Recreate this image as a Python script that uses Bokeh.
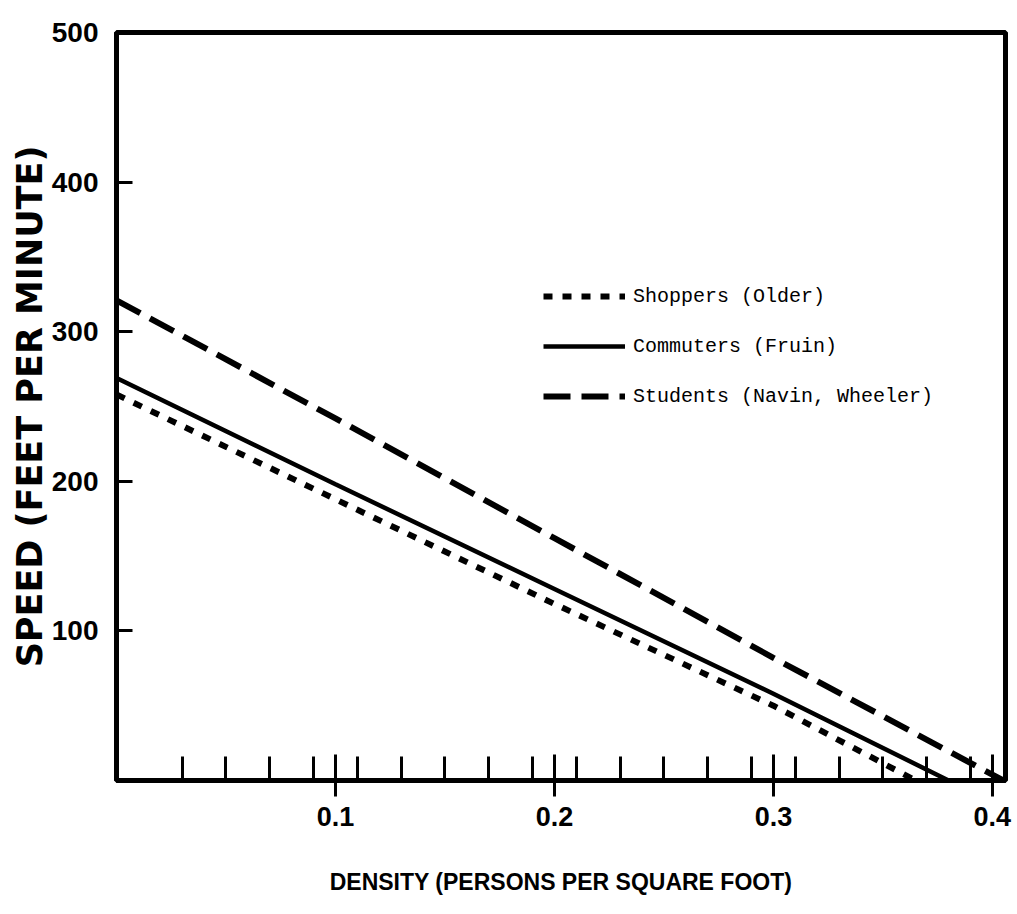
from bokeh.plotting import figure
from bokeh.models import FixedTicker, Legend, LegendItem, Range1d
from bokeh.embed import file_html
from bokeh.resources import INLINE

# Data
shoppers_x = [0.0, 0.1, 0.2, 0.3, 0.365]
shoppers_y = [258, 188, 118, 50, 0]
commuters_x = [0.0, 0.1, 0.2, 0.3, 0.38]
commuters_y = [269, 198, 128, 58, 0]
students_x = [0.0, 0.1, 0.2, 0.3, 0.405]
students_y = [321, 242, 162, 82, 0]

x_major = [0.1, 0.2, 0.3, 0.4]
x_minor = [0.03, 0.05, 0.07, 0.09, 0.11, 0.13, 0.15, 0.17, 0.19, 0.21,
           0.23, 0.25, 0.27, 0.29, 0.31, 0.33, 0.35, 0.37, 0.39]
y_major = [100, 200, 300, 400, 500]

labels = ["Shoppers (Older)", "Commuters (Fruin)", "Students (Navin, Wheeler)"]

p = figure(width=1017, height=914, output_backend="svg", toolbar_location=None,
           x_range=Range1d(0, 0.406), y_range=Range1d(0, 500),
           min_border_left=116, min_border_right=12, min_border_top=32,
           min_border_bottom=134)
p.grid.visible = False
p.background_fill_color = "white"
p.border_fill_color = "white"
p.outline_line_color = "black"
p.outline_line_width = 5

# X axis
xa = p.xaxis[0]
xa.ticker = FixedTicker(ticks=x_major, minor_ticks=x_minor)
xa.major_tick_in = 26
xa.major_tick_out = 16
xa.minor_tick_in = 24
xa.minor_tick_out = 0
xa.major_tick_line_width = 3
xa.minor_tick_line_width = 3
xa.axis_line_width = 5
xa.major_label_standoff = 10
xa.major_label_text_font = "Liberation Sans"
xa.major_label_text_font_style = "bold"
xa.major_label_text_font_size = "27px"
xa.major_label_text_color = "black"
xa.axis_label = "DENSITY (PERSONS PER SQUARE FOOT)"
xa.axis_label_text_font = "Liberation Sans"
xa.axis_label_text_font_style = "bold"
xa.axis_label_text_font_size = "23px"
xa.axis_label_text_color = "black"
xa.axis_label_standoff = 40

# Y axis
ya = p.yaxis[0]
ya.ticker = FixedTicker(ticks=y_major)
ya.major_tick_in = 16
ya.major_tick_out = 0
ya.minor_tick_in = 0
ya.minor_tick_out = 0
ya.major_tick_line_width = 3
ya.axis_line_width = 5
ya.major_label_standoff = 18
ya.major_label_text_font = "Liberation Sans"
ya.major_label_text_font_style = "bold"
ya.major_label_text_font_size = "28px"
ya.major_label_text_color = "black"
ya.axis_label = "SPEED (FEET PER MINUTE)"
ya.axis_label_text_font = "DejaVu Sans"
ya.axis_label_text_font_style = "bold"
ya.axis_label_text_font_size = "35px"
ya.axis_label_text_color = "black"
ya.axis_label_standoff = -1

r1 = p.line(shoppers_x, shoppers_y, line_color="black", line_width=6, line_dash="9 10")
r2 = p.line(commuters_x, commuters_y, line_color="black", line_width=4.5)
r3 = p.line(students_x, students_y, line_color="black", line_width=6, line_dash="27 11")

legend = Legend(items=[LegendItem(label=labels[0], renderers=[r1]),
                       LegendItem(label=labels[1], renderers=[r2]),
                       LegendItem(label=labels[2], renderers=[r3])],
                location=(427, 371), orientation="vertical",
                padding=0, margin=0, spacing=24,
                glyph_width=82, glyph_height=26, label_height=26,
                label_standoff=8,
                label_text_font="Liberation Mono", label_text_font_size="20px",
                label_text_color="black",
                border_line_alpha=0, background_fill_alpha=0)
p.add_layout(legend, "center")

open("out.html", "w").write(file_html(p, INLINE))
